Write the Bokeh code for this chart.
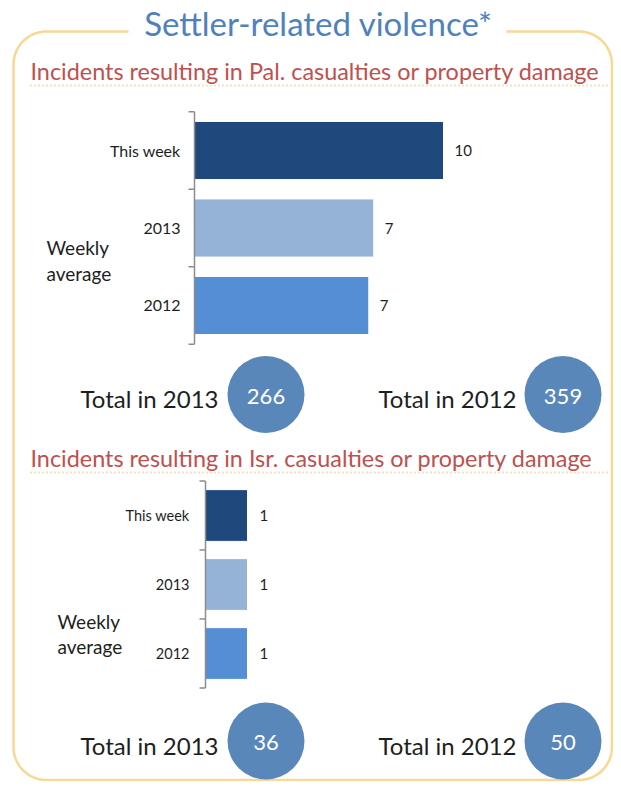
import numpy as np
from bokeh.plotting import figure
from bokeh.models import Range1d
from bokeh.core.properties import value
from bokeh.embed import file_html
from bokeh.resources import INLINE

# ---------------- data ----------------
title = "Settler-related violence*"
pal_title = "Incidents resulting in Pal. casualties or property damage"
isr_title = "Incidents resulting in Isr. casualties or property damage"
categories = ["This week", "2013", "2012"]
group_label = ["Weekly", "average"]
pal_values = [10.0, 7.2, 7.0]
isr_values = [1.0, 1.0, 1.0]
total_labels = ["Total in 2013", "Total in 2012"]
pal_totals = [266, 359]
isr_totals = [36, 50]

# ---------------- styles ----------------
FONT = "Lato"
bar_colors = ["#1F487C", "#95B3D7", "#558ED5"]
title_color = "#4F81BD"
sub_color = "#C0504D"
frame_color = "#F8D894"
dot_color = "#F3C27E"
circle_color = "#5A87B9"
text_color = "#1E1E1E"

W, H = 613, 781
X0, Y0 = 0, 0  # data coords == picture pixel coords

p = figure(width=W, height=H, output_backend="svg", toolbar_location=None,
           x_range=Range1d(X0, X0 + W), y_range=Range1d(Y0 + H, Y0),
           x_axis_location=None, y_axis_location=None, min_border=0,
           outline_line_color=None)
p.grid.visible = False

# ---- rounded frame with a gap for the title ----
r = 33
L, R, T, B = 13, 611.5, 31, 779.5
def arc(cx, cy, a0, a1, n=20):
    t = np.linspace(np.radians(a0), np.radians(a1), n)
    return cx + r * np.cos(t), cy + r * np.sin(t)
xs, ys = [128.0], [float(T)]
for (cx, cy, a0, a1) in [(L + r, T + r, 270, 180), (L + r, B - r, 180, 90),
                         (R - r, B - r, 90, 0), (R - r, T + r, 0, -90)]:
    ax, ay = arc(cx, cy, a0, a1)
    xs += list(ax); ys += list(ay)
xs.append(506.0); ys.append(float(T))
p.line(xs, ys, line_color=frame_color, line_width=2.5)

p.text(x=[318], y=[22], text=[title], text_font=value(FONT), text_font_size="33px",
       text_color=title_color, text_align="center", text_baseline="middle")


def panel(name, subtitle, sub_y, dot_y, vals, axis_x, ppu, c0, sp, cat_size,
          cat_gap, val_gap, grp_x, grp_y, grp_size, totals, tot_y, circ_y):
    # subtitle and dotted rule
    p.text(x=[30], y=[sub_y], text=[subtitle], text_font=value(FONT), text_font_size="23.4px",
           text_color=sub_color, text_align="left", text_baseline="middle")
    p.line([30, 607], [dot_y, dot_y], line_color=dot_color, line_width=2, line_dash="1 3")

    # scales for the bar panel
    xr, yr = "x_" + name, "y_" + name
    p.extra_x_ranges[xr] = Range1d(-(axis_x - X0) / ppu, (X0 + W - axis_x) / ppu)
    p.extra_y_ranges[yr] = Range1d((Y0 + H - c0) / sp, (Y0 - c0) / sp)
    idx = list(range(len(categories)))
    p.hbar(y=idx, left=0, right=vals, height=0.75, fill_color=bar_colors,
           line_color="white", line_width=1, x_range_name=xr, y_range_name=yr)
    # axis line with ticks between categories
    n = len(categories)
    p.segment(x0=[0], y0=[-0.5], x1=[0], y1=[n - 0.5], line_color="#8C8C8C",
              line_width=1.5, x_range_name=xr, y_range_name=yr)
    tk = [i - 0.5 for i in range(n + 1)]
    p.segment(x0=[0] * len(tk), y0=tk, x1=[-6 / ppu] * len(tk), y1=tk,
              line_color="#8C8C8C", line_width=1.5, x_range_name=xr, y_range_name=yr)
    # category labels
    p.text(x=[0] * n, y=idx, text=categories, x_offset=-cat_gap, text_font=value(FONT),
           text_font_size=cat_size, text_color=text_color, text_align="right",
           text_baseline="middle", x_range_name=xr, y_range_name=yr)
    # value labels
    p.text(x=vals, y=idx, text=[str(int(round(v))) for v in vals], x_offset=val_gap,
           text_font=value(FONT), text_font_size="15px", text_color=text_color,
           text_align="left", text_baseline="middle", x_range_name=xr, y_range_name=yr)
    # group label
    p.text(x=[grp_x, grp_x], y=grp_y, text=group_label, text_font=value(FONT),
           text_font_size=grp_size, text_color=text_color, text_align="left",
           text_baseline="middle")
    # totals
    cx = [265.5, 562.5]
    p.circle(x=cx, y=[circ_y] * 2, radius=38.5, fill_color=circle_color, line_color=None)
    p.text(x=cx, y=[circ_y + 1.5] * 2, text=[str(t) for t in totals], text_font=value(FONT),
           text_font_size="22px", text_color="white", text_align="center",
           text_baseline="middle")
    p.text(x=[218, 516], y=[tot_y] * 2, text=total_labels, text_font=value(FONT),
           text_font_size="24px", text_color=text_color, text_align="right",
           text_baseline="middle")


panel("pal", pal_title, 70, 85, pal_values, 194, 24.9, 150, 77.5, "16px", 14, 11,
      46, [247, 273], "19px", pal_totals, 398, 394)
panel("isr", isr_title, 457, 472, isr_values, 205, 42.0, 515, 69.0, "14.5px", 16, 12,
      57, [621, 646], "19px", isr_totals, 745, 740.5)

open("out.html", "w").write(file_html(p, INLINE))
